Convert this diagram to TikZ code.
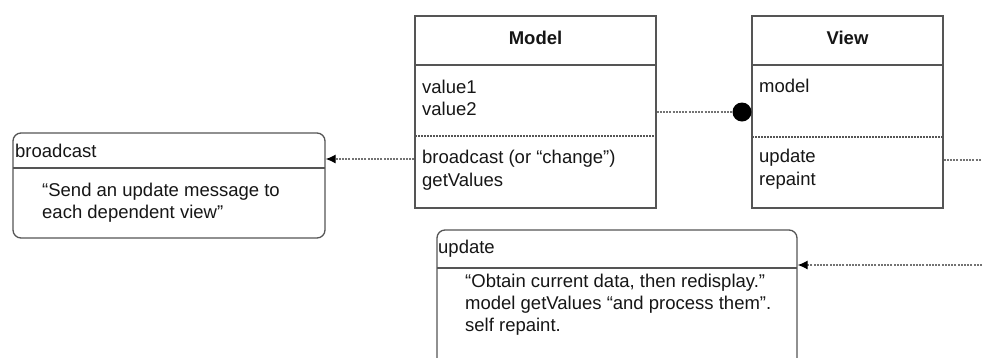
\documentclass[tikz,border=0pt]{standalone}
\usepackage{fontspec}
\setmainfont{Liberation Sans}
\usetikzlibrary{arrows.meta}
\definecolor{edge}{HTML}{555555}
\definecolor{ink}{HTML}{161616}
\tikzset{
  classbox/.style={draw=edge, line width=1.3pt, fill=white, inner sep=0pt},
  notebox/.style={draw=edge, line width=1.3pt, fill=white, rounded corners=8pt, inner sep=0pt},
  solidsep/.style={draw=edge, line width=1.2pt},
  dotsep/.style={draw=edge, line width=1.2pt, dash pattern=on 2pt off 1pt},
  conn/.style={draw=gray!90!black, line width=1.1pt, dash pattern=on 2pt off 1.2pt},
  arr/.style={conn, -{Latex[length=10pt,width=9pt,color=black,fill=black]}},
  txt/.style={anchor=base west, inner sep=0pt, text=ink, font=\fontsize{18.5}{22}\selectfont},
  ttl/.style={anchor=base, inner sep=0pt, text=ink, font=\fontsize{18.5}{22}\selectfont\bfseries},
  dotnode/.style={circle, fill=black, inner sep=0pt, minimum size=19pt}
}
\begin{document}
\begin{tikzpicture}[x=1pt,y=-1pt]
\useasboundingbox (0,0) rectangle (982,357);
\clip (0,0) rectangle (982,357);
% Model
\node[classbox, minimum width=241pt, minimum height=192pt] (model) at (535.5,112) {};
\draw[solidsep] (415,65) -- (656,65);
\draw[dotsep] (415,136) -- (656,136);
\node[ttl] (mt) at (535.5,44) {Model};
\node[txt] (mv1) at (422,93) {value1};
\node[txt] (mv2) at (422,115) {value2};
\node[txt] (mb) at (422,163) {broadcast (or “change”)};
\node[txt] (mg) at (422,186) {getValues};
% View
\node[classbox, minimum width=191pt, minimum height=192pt] (view) at (847.5,112) {};
\draw[solidsep] (752,65) -- (943,65);
\draw[dotsep] (752,137) -- (943,137);
\node[ttl] (vt) at (847.5,44) {View};
\node[txt] (vm) at (759,92) {model};
\node[txt] (vu) at (759,162) {update};
\node[txt] (vr) at (759,185) {repaint};
% broadcast note
\node[notebox, minimum width=312pt, minimum height=105pt] (bc) at (169,185.5) {};
\draw[solidsep] (13,168) -- (325,168);
\node[txt] (bct) at (15,157) {broadcast};
\node[txt] (bc1) at (42,196) {“Send an update message to};
\node[txt] (bc2) at (42,218) {each dependent view”};
% update note
\node[notebox, minimum width=360pt, minimum height=142pt] (up) at (617,301) {};
\draw[solidsep] (437,268) -- (797,268);
\node[txt] (upt) at (438,253) {update};
\node[txt] (up1) at (465,287) {“Obtain current data, then redisplay.”};
\node[txt] (up2) at (465,309) {model getValues “and process them”.};
\node[txt] (up3) at (465,331) {self repaint.};
% connectors
\coordinate (vout) at (982,160);
\coordinate (uin) at (982,265);
\node[dotnode] (dot) at (742,112) {};
\draw[conn] (model.east) -- (dot);
\draw[conn] (view.east |- vout) -- (vout);
\draw[arr] (model.west |- 0,159) -- (bc.east |- 0,159);
\draw[arr] (uin) -- (up.east |- uin);
\end{tikzpicture}
\end{document}
